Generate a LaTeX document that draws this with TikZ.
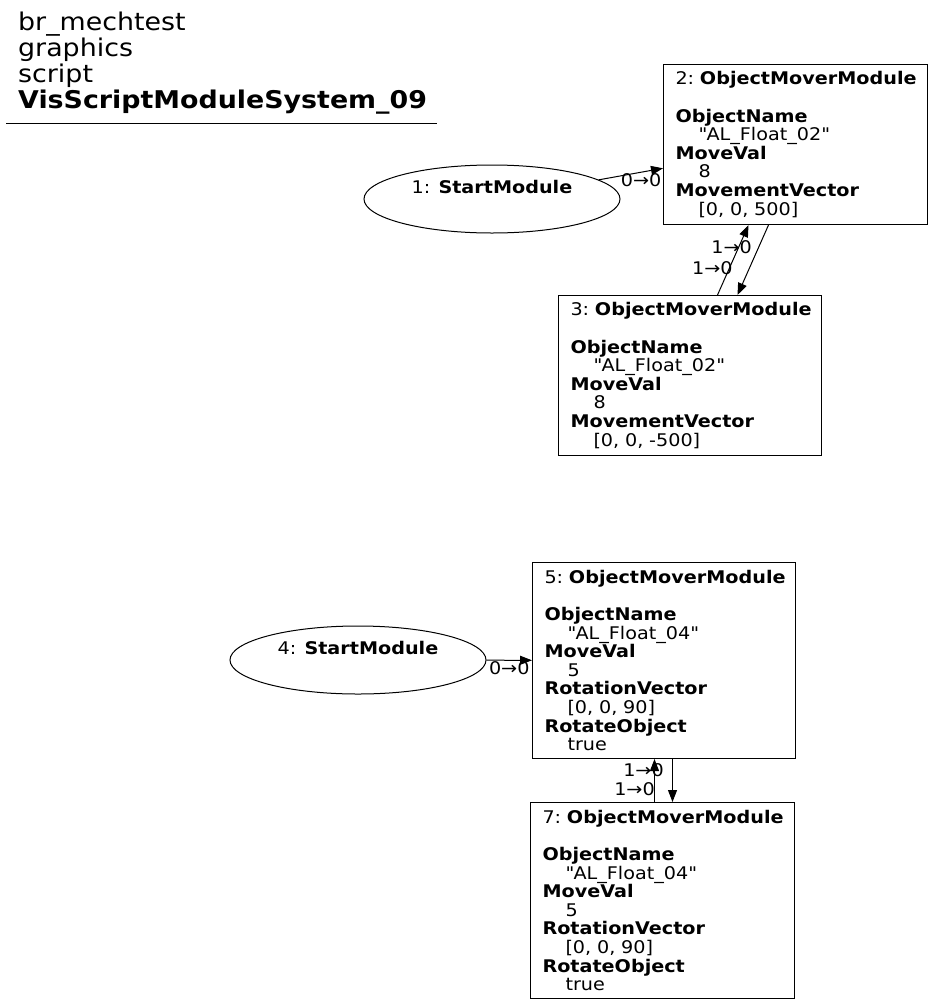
\documentclass[tikz,border=0pt]{standalone}
\usepackage{fontspec}
\setmainfont{DejaVu Sans}[FakeStretch=1.1]
\usetikzlibrary{shapes.geometric,arrows.meta}
\def \schrift {\fontsize{17.5}{18.7}\selectfont}
\def \titelschrift {\fontsize{24.5}{26}\selectfont}
\def \ein {\hspace*{23bp}}
\def \q {\textquotedbl}
\def \kopf #1{#1:~\mbox{\textbf{ObjectMoverModule}}}
\tikzset{
  modul/.style={draw,line width=1bp,anchor=north west,align=left,inner xsep=12bp,inner ysep=0pt,font=\schrift},
  start/.style={draw,line width=1bp,ellipse,minimum width=256bp,minimum height=68bp,align=center,inner sep=0pt,font=\schrift},
  kante/.style={line width=1bp,-{Triangle[length=12bp,width=9bp]}},
  marke/.style={font=\schrift,inner sep=0pt}
}
\begin{document}
\begin{tikzpicture}[x=1bp,y=1bp]
  \useasboundingbox (0,0) rectangle (933,-1004);
  \node[anchor=north west,align=left,inner sep=0pt,font=\titelschrift] (titel) at (18,-12)
  {br\_mechtest\\graphics\\script\\\textbf{VisScriptModuleSystem\_09}};
  \draw[line width=1bp] (6,-123) -- (437,-123);

  \node[start] (modul1) at (492,-199) {1: \textbf{StartModule}\\\strut};
  \node[modul,text width=240bp,minimum height=160bp] (modul2) at (663,-64)
  {
    \kopf{2}\\[18.7bp]
    \textbf{ObjectName}\\
    \ein\q AL\_Float\_02\q\\
    \textbf{MoveVal}\\
    \ein 8\\
    \textbf{MovementVector}\\
    \ein [0, 0, 500]
  };
  \node[modul,text width=239bp,minimum height=160bp] (modul3) at (558,-295)
  {
    \kopf{3}\\[18.7bp]
    \textbf{ObjectName}\\
    \ein\q AL\_Float\_02\q\\
    \textbf{MoveVal}\\
    \ein 8\\
    \textbf{MovementVector}\\
    \ein [0, 0, -500]
  };

  \node[start] (modul4) at (358,-660) {4: \textbf{StartModule}\\\strut};
  \node[modul,text width=239bp,minimum height=196bp] (modul5) at (532,-562)
  {
    \kopf{5}\\[18.7bp]
    \textbf{ObjectName}\\
    \ein\q AL\_Float\_04\q\\
    \textbf{MoveVal}\\
    \ein 5\\
    \textbf{RotationVector}\\
    \ein [0, 0, 90]\\
    \textbf{RotateObject}\\
    \ein true
  };
  \node[modul,text width=240bp,minimum height=196bp] (modul7) at (530,-802)
  {
    \kopf{7}\\[18.7bp]
    \textbf{ObjectName}\\
    \ein\q AL\_Float\_04\q\\
    \textbf{MoveVal}\\
    \ein 5\\
    \textbf{RotationVector}\\
    \ein [0, 0, 90]\\
    \textbf{RotateObject}\\
    \ein true
  };

  \draw[kante] (modul1) -- (modul2) node[marke,pos=0.66,below=1bp]{0→0};
  \draw[kante] ([xshift=-27bp]modul2.south) -- ([xshift=47.5bp]modul3.north);
  \draw[kante] ([xshift=27.5bp]modul3.north) -- ([xshift=-47bp]modul2.south)
    node[marke,pos=0.38,xshift=-17bp]{1→0}
    node[marke,pos=0.68,xshift=-7bp]{1→0};

  \draw[kante] (modul4) -- (modul5) node[marke,pos=0.5,below=1bp]{0→0};
  \draw[kante] ([xshift=8.5bp]modul5.south) -- ([xshift=8.5bp]modul5.south |- modul7.north);
  \draw[kante] ([xshift=-8bp]modul7.north) -- ([xshift=-8bp]modul7.north |- modul5.south)
    node[marke,pos=0.295,xshift=-20bp]{1→0}
    node[marke,pos=0.75,xshift=-11bp]{1→0};
\end{tikzpicture}
\end{document}
